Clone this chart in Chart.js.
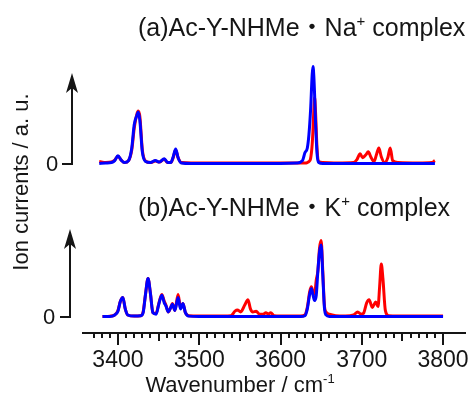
<!DOCTYPE html>
<html>
<head>
<meta charset="utf-8">
<script src="https://cdn.jsdelivr.net/npm/chart.js@4"></script>
<style>
  html, body { margin: 0; padding: 0; background: #fff; }
</style>
</head>
<body>
<canvas id="spec" width="473" height="394"></canvas>
<script>
// IR spectra, (a) Na+ complex, (b) K+ complex; intensities in a.u. (0 = baseline)
const wnA = [3377, 3385, 3392, 3396, 3400, 3404, 3408, 3413, 3417, 3420, 3423, 3425, 3427, 3430, 3434, 3440,
  3446, 3451, 3457, 3461, 3465, 3468, 3471, 3474, 3478, 3490, 3520, 3560, 3600, 3620, 3627, 3630, 3633, 3635,
  3637, 3639, 3640, 3641, 3642, 3643, 3645, 3647, 3652, 3670, 3690, 3694, 3698, 3701, 3705, 3708, 3711, 3715,
  3718, 3721, 3724, 3728, 3732, 3735, 3738, 3745, 3770, 3786, 3790];
const naRed = [0.02, 0.01, 0.015, 0.035, 0.075, 0.035, 0.01, 0.03, 0.14, 0.36, 0.50, 0.54, 0.48, 0.14, 0.025, 0.01,
  0.025, 0.015, 0.045, 0.01, 0.01, 0.06, 0.14, 0.06, 0.01, 0.005, 0.005, 0.005, 0.005, 0.005, 0.005, 0.005, 0.01, 0.02,
  0.05, 0.2, 0.35, 0.55, 0.68, 0.55, 0.15, 0.02, 0.01, 0.005, 0.01, 0.04, 0.10, 0.06, 0.09, 0.12, 0.07, 0.02,
  0.09, 0.16, 0.07, 0.01, 0.06, 0.16, 0.03, 0.01, 0.005, 0.01, 0.03];
const naBlue = [0, 0.005, 0.01, 0.03, 0.08, 0.035, 0.01, 0.03, 0.16, 0.40, 0.49, 0.53, 0.44, 0.12, 0.02, 0.01,
  0.03, 0.015, 0.05, 0.01, 0.01, 0.07, 0.15, 0.06, 0.005, 0, 0, 0, 0, 0.005, 0.03, 0.11, 0.16, 0.3,
  0.55, 0.92, 1.0, 0.9, 0.7, 0.45, 0.1, 0.01, 0, 0, 0, 0, 0, 0, 0, 0, 0, 0,
  0, 0, 0, 0, 0, 0, 0, 0, 0, 0, 0];

const wnB = [3381, 3390, 3396, 3400, 3403, 3406, 3409, 3412, 3420, 3428, 3431, 3434, 3437, 3440, 3443, 3447,
  3450, 3454, 3457, 3459, 3462, 3465, 3467, 3470, 3474, 3477, 3480, 3483, 3487, 3500, 3530, 3539, 3544, 3547,
  3551, 3556, 3560, 3563, 3566, 3570, 3574, 3579, 3582, 3585, 3588, 3592, 3600, 3625, 3630, 3633, 3636, 3638,
  3640, 3642, 3644, 3646, 3648, 3650, 3652, 3654, 3656, 3660, 3668, 3680, 3690, 3695, 3699, 3702, 3706, 3709,
  3713, 3717, 3720, 3722, 3724, 3726, 3729, 3733, 3760, 3800];
const kRed = [0, 0.005, 0.02, 0.08, 0.2, 0.25, 0.1, 0.02, 0.005, 0.01, 0.06, 0.3, 0.5, 0.3, 0.05, 0.04,
  0.16, 0.29, 0.2, 0.15, 0.06, 0.12, 0.17, 0.08, 0.29, 0.12, 0.17, 0.05, 0.01, 0.005, 0.005, 0.01, 0.07, 0.085,
  0.06, 0.15, 0.22, 0.1, 0.06, 0.07, 0.03, 0.03, 0.05, 0.03, 0.05, 0.01, 0.005, 0.005, 0.02, 0.12, 0.33, 0.39,
  0.32, 0.3, 0.48, 0.6, 0.9, 1.0, 0.6, 0.15, 0.06, 0.03, 0.01, 0.005, 0.02, 0.06, 0.03, 0.04, 0.18, 0.22,
  0.12, 0.19, 0.13, 0.4, 0.69, 0.5, 0.08, 0.01, 0.005, 0.005];
const kBlue = [0, 0, 0.02, 0.07, 0.2, 0.25, 0.1, 0.02, 0.005, 0.01, 0.05, 0.3, 0.5, 0.3, 0.05, 0.03,
  0.15, 0.28, 0.18, 0.14, 0.06, 0.12, 0.16, 0.08, 0.25, 0.1, 0.17, 0.05, 0.005, 0, 0, 0, 0, 0,
  0, 0, 0, 0, 0, 0, 0, 0, 0, 0, 0, 0, 0, 0, 0.01, 0.1, 0.3, 0.37,
  0.28, 0.21, 0.28, 0.6, 0.85, 0.94, 0.55, 0.12, 0.02, 0, 0, 0, 0, 0, 0, 0, 0, 0,
  0, 0, 0, 0, 0, 0, 0, 0, 0, 0];

const xLabels = [3400, 3500, 3600, 3700, 3800];
const FONT = '"Liberation Sans", Arial, "Noto Sans CJK JP", sans-serif';
const INK = '#151515';

function pts(xs, ys) { return xs.map((x, i) => ({ x: x, y: ys[i] })); }

// text with small raised pieces, e.g. Na+ / cm-1
function richText(ctx, parts, x, y, size, align) {
  let w = 0;
  for (const [t, sup] of parts) {
    ctx.font = (sup ? Math.round(size * 0.6) : size) + 'px ' + FONT;
    w += ctx.measureText(t).width;
  }
  let cx = align === 'center' ? x - w / 2 : x;
  ctx.textAlign = 'left';
  ctx.textBaseline = 'alphabetic';
  for (const [t, sup] of parts) {
    ctx.font = (sup ? Math.round(size * 0.6) : size) + 'px ' + FONT;
    ctx.fillText(t, cx, sup ? y - size * 0.42 : y);
    cx += ctx.measureText(t).width;
  }
}

const decor = {
  id: 'decor',
  afterDraw(chart) {
    const ctx = chart.ctx;
    const sx = chart.scales.x;
    const axisY = sx.top;
    ctx.save();
    ctx.strokeStyle = INK;
    ctx.fillStyle = INK;
    ctx.lineWidth = 2;

    // minor / mid / major ticks on the wavenumber axis
    for (let v = 3370; v <= 3800; v += 10) {
      const px = Math.round(sx.getPixelForValue(v));
      const len = v % 100 === 0 ? 12 : (v % 50 === 0 ? 8 : 5);
      ctx.beginPath();
      ctx.moveTo(px, axisY);
      ctx.lineTo(px, axisY + len);
      ctx.stroke();
    }

    // intensity arrows with zero marks
    const panels = [
      { scale: chart.scales.ya, ax: 72, tip: 73, zx: 52, label: 'Na', tag: '(a)', ty: 36 },
      { scale: chart.scales.yb, ax: 70, tip: 229, zx: 49, label: 'K', tag: '(b)', ty: 216 }
    ];
    for (const p of panels) {
      const y0 = Math.round(p.scale.getPixelForValue(0));
      ctx.beginPath();
      ctx.moveTo(p.ax - 10, y0);
      ctx.lineTo(p.ax, y0);
      ctx.lineTo(p.ax, p.tip + 14);
      ctx.stroke();
      ctx.beginPath();
      ctx.moveTo(p.ax, p.tip);
      ctx.lineTo(p.ax - 6, p.tip + 20);
      ctx.lineTo(p.ax, p.tip + 15);
      ctx.lineTo(p.ax + 6, p.tip + 20);
      ctx.closePath();
      ctx.fill();

      ctx.font = '22px ' + FONT;
      ctx.textAlign = 'center';
      ctx.textBaseline = 'middle';
      ctx.fillText('0', p.zx, y0 + 1);

      richText(ctx, [[p.tag + 'Ac-Y-NHMe', false], ['・', false], [p.label, false], ['+', true], [' complex', false]],
        138, p.ty, 25, 'left');
    }

    // y title
    ctx.save();
    ctx.translate(22, 182);
    ctx.rotate(-Math.PI / 2);
    ctx.font = '22px ' + FONT;
    ctx.textAlign = 'center';
    ctx.textBaseline = 'middle';
    ctx.fillText('Ion currents / a. u.', 0, 0);
    ctx.restore();

    // x title
    richText(ctx, [['Wavenumber / cm', false], ['-1', true]], 240, 392, 22, 'center');
    ctx.restore();
  }
};

const lineStyle = { pointRadius: 0, borderWidth: 3, cubicInterpolationMode: 'monotone', fill: false };

new Chart(document.getElementById('spec'), {
  type: 'line',
  data: {
    datasets: [
      { ...lineStyle, label: 'Na blue', data: pts(wnA, naBlue), borderColor: '#0000ff', yAxisID: 'ya', order: 0 },
      { ...lineStyle, label: 'K blue', data: pts(wnB, kBlue), borderColor: '#0000ff', yAxisID: 'yb', order: 0 },
      { ...lineStyle, label: 'Na red', data: pts(wnA, naRed), borderColor: '#ff0000', yAxisID: 'ya', order: 1 },
      { ...lineStyle, label: 'K red', data: pts(wnB, kRed), borderColor: '#ff0000', yAxisID: 'yb', order: 1 }
    ]
  },
  options: {
    responsive: false,
    animation: false,
    devicePixelRatio: 1,
    layout: { padding: { left: 83, right: 8, top: 0, bottom: 0 } },
    plugins: { legend: { display: false }, tooltip: { enabled: false } },
    scales: {
      x: {
        type: 'linear', min: 3357, max: 3827,
        grid: { display: false, drawTicks: false },
        border: { display: true, color: INK, width: 2 },
        ticks: {
          stepSize: 100, includeBounds: false, autoSkip: false, maxRotation: 0, padding: 14, color: INK,
          font: { family: FONT, size: 23 },
          callback: v => xLabels.includes(v) ? String(v) : ''
        },
        afterFit: s => { s.height = 61; s.paddingLeft = 0; s.paddingRight = 0; }
      },
      ya: { type: 'linear', display: false, min: -1.7474, max: 1.6856 },
      yb: { type: 'linear', display: false, min: -0.2171, max: 4.1645 }
    }
  },
  plugins: [decor]
});
</script>
</body>
</html>
